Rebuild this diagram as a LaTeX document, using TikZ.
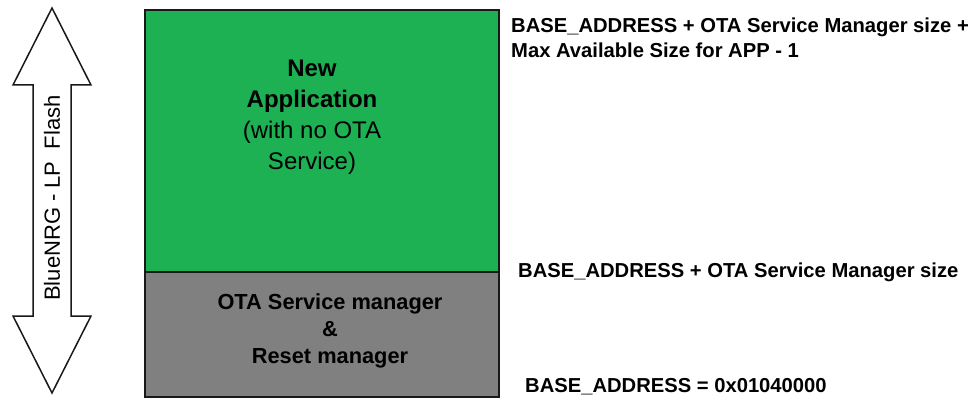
\documentclass[tikz,border=0pt]{standalone}
\usepackage{fontspec}
\setmainfont{Liberation Sans}
\definecolor{appgreen}{RGB}{29,177,84}
\definecolor{mgrgray}{RGB}{128,128,128}
\begin{document}
\begin{tikzpicture}[x=1pt,y=-1pt,
  outline/.style={draw=black!90, line width=1.5pt},
  addr/.style={font=\bfseries\fontsize{20.2}{25}\selectfont, anchor=west, inner sep=0pt, align=left},
  boxtext/.style={align=center, inner sep=0pt}]
\useasboundingbox (0,0) rectangle (976,401);
% double-headed flash arrow
\draw[outline, fill=white] (52,8) -- (91,85) -- (71,85) -- (71,316) -- (91,316)
  -- (52,393) -- (13,316) -- (33,316) -- (33,85) -- (13,85) -- cycle;
\node[rotate=90, font=\fontsize{22}{25}\selectfont] (flash) at (52,198) {BlueNRG - LP\ \ Flash};
% memory regions
\draw[outline, fill=appgreen] (145,10) rectangle (499,272);
\draw[outline, fill=mgrgray] (145,272) rectangle (499,397);
\node[boxtext, font=\fontsize{24}{31}\selectfont] (app) at (312,117)
  {\textbf{New}\\\textbf{Application}\\(with no OTA\\Service)};
\node[boxtext, font=\bfseries\fontsize{21.8}{27}\selectfont] (mgr) at (330,331)
  {OTA Service manager\\\&\\Reset manager};
% address labels
\node[addr] (top) at (511,38) {BASE\_ADDRESS + OTA Service Manager size +\\Max Available Size for APP - 1};
\node[addr] (mid) at (518,272) {BASE\_ADDRESS + OTA Service Manager size};
\node[addr] (base) at (525,387) {BASE\_ADDRESS = 0x01040000};
\end{tikzpicture}
\end{document}
